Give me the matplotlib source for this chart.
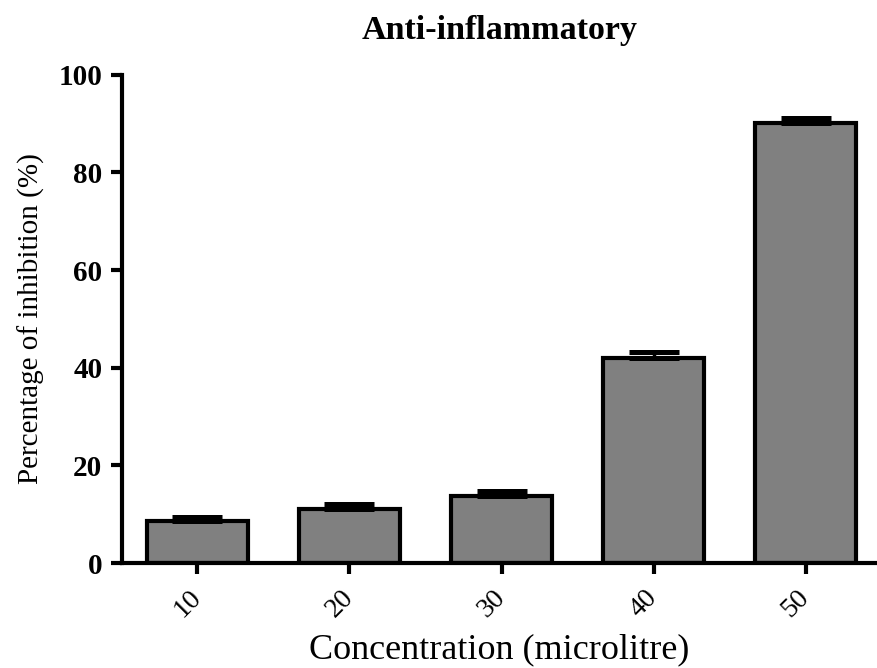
import matplotlib
matplotlib.use("Agg")
import matplotlib.pyplot as plt
import numpy as np

categories = ["10", "20", "30", "40", "50"]
values = [8.6, 11.1, 13.7, 42.0, 90.2]
errors = [0.9, 1.1, 1.0, 1.2, 1.0]
yticks = [0, 20, 40, 60, 80, 100]

plt.rcParams['font.family'] = ['Liberation Serif', 'DejaVu Serif']

fig = plt.figure(figsize=(8.77, 6.68), dpi=100)
ax = fig.add_axes([0.139, 0.157, 0.861, 0.731])

x = np.arange(len(categories))
ax.bar(x, values, width=0.667, color='#808080', edgecolor='black', linewidth=3, zorder=2)
ax.errorbar(x, values, yerr=[np.zeros(len(errors)), errors], fmt='none',
            ecolor='black', elinewidth=2.5, capsize=18, capthick=3.6, zorder=3)

ax.set_xlim(-0.497, 4.47)
ax.set_ylim(0, 100)
ax.set_yticks(yticks)
ax.set_yticklabels([str(t) for t in yticks], fontsize=21, fontweight='bold')
ax.set_xticks(x)
ax.set_xticklabels(categories, fontsize=20, rotation=45, ha='right', va='center',
                   rotation_mode='anchor')

for s in ['top', 'right']:
    ax.spines[s].set_visible(False)
for s in ['left', 'bottom']:
    ax.spines[s].set_linewidth(3)
ax.tick_params(axis='y', direction='out', length=8, width=3, pad=6)
ax.tick_params(axis='x', direction='out', length=8, width=3, pad=14)

ax.set_ylabel("Percentage of inhibition (%)", fontsize=21, labelpad=10)
ax.set_xlabel("Concentration (microlitre)", fontsize=26, labelpad=8)
ax.set_title("Anti-inflammatory", fontsize=24.5, fontweight='bold', pad=26)

fig.savefig("out.png", dpi=100)
